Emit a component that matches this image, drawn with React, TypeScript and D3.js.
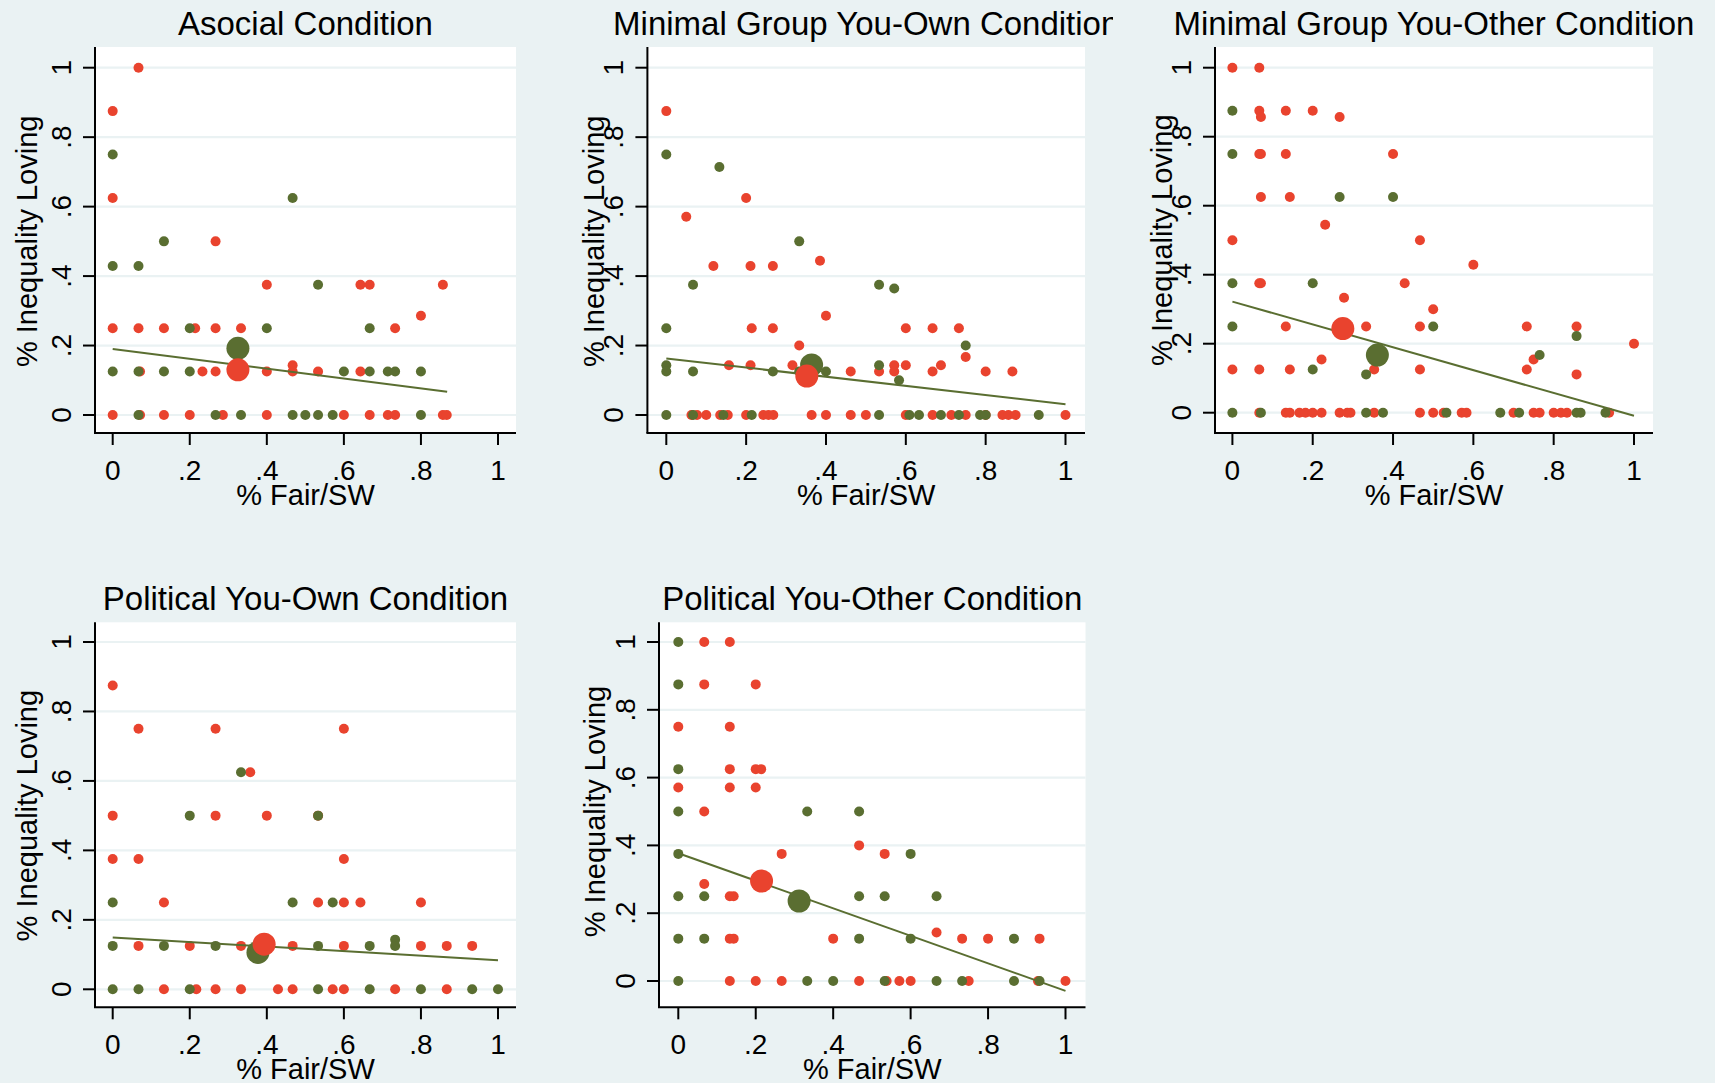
import React from 'react'
import { scaleLinear, line } from 'd3'

// ---- data ----
type Pt = [number, number]

const panelTitles = [
  'Asocial Condition',
  'Minimal Group You-Own Condition',
  'Minimal Group You-Other Condition',
  'Political You-Own Condition',
  'Political You-Other Condition',
]

const tickValues = [0, 0.2, 0.4, 0.6, 0.8, 1]
const tickLabels = ['0', '.2', '.4', '.6', '.8', '1']
const xTitle = '% Fair/SW'
const yTitle = '% Inequality Loving'

const asocialRed: Pt[] = [
  [0, .875], [.067, 1], [0, .625], [.267, .5], [.4, .375], [.643, .375], [.667, .375], [.857, .375], [.8, .286],
  [0, .25], [.067, .25], [.133, .25], [.214, .25], [.267, .25], [.333, .25], [.733, .25],
  [.071, .125], [.233, .125], [.267, .125], [.4, .125], [.467, .125], [.533, .125], [.643, .125], [.467, .143],
  [0, 0], [.071, 0], [.133, 0], [.2, 0], [.286, 0], [.4, 0], [.6, 0], [.667, 0], [.714, 0], [.733, 0], [.857, 0], [.867, 0],
]
const asocialGreen: Pt[] = [
  [0, .75], [.467, .625], [.133, .5], [0, .429], [.067, .429], [.533, .375], [.2, .25], [.4, .25], [.667, .25],
  [0, .125], [.067, .125], [.133, .125], [.2, .125], [.6, .125], [.667, .125], [.714, .125], [.733, .125], [.8, .125],
  [.067, 0], [.267, 0], [.333, 0], [.467, 0], [.5, 0], [.533, 0], [.571, 0], [.8, 0],
]

const ownRed: Pt[] = [
  [0, .875], [.05, .571], [.2, .625], [.118, .429], [.211, .429], [.267, .429], [.385, .444], [.4, .286],
  [.214, .25], [.267, .25], [.6, .25], [.667, .25], [.733, .25], [.333, .2], [.75, .167],
  [.157, .143], [.211, .143], [.316, .143], [.571, .143], [.6, .143], [.688, .143],
  [.462, .125], [.533, .125], [.571, .125], [.667, .125], [.8, .125], [.867, .125],
  [.063, 0], [.077, 0], [.1, 0], [.135, 0], [.154, 0], [.2, 0], [.243, 0], [.256, 0], [.268, 0], [.364, 0], [.4, 0],
  [.462, 0], [.5, 0], [.6, 0], [.667, 0], [.714, 0], [.75, 0], [.8, 0], [.842, 0], [.857, 0], [.875, 0], [1, 0],
]
const ownGreen: Pt[] = [
  [0, .75], [.133, .714], [.333, .5], [.067, .375], [.533, .375], [.571, .364], [0, .25], [.75, .2], [0, .143], [.533, .143],
  [0, .125], [.067, .125], [.267, .125], [.333, .125], [.4, .125], [.583, .1],
  [0, 0], [.067, 0], [.143, 0], [.214, 0], [.533, 0], [.609, 0], [.633, 0], [.688, 0], [.733, 0], [.786, 0], [.8, 0], [.933, 0],
]

const otherRed: Pt[] = [
  [0, 1], [.067, 1], [.067, .875], [.071, .857], [.133, .875], [.2, .875], [.267, .857],
  [.067, .75], [.071, .75], [.133, .75], [.4, .75], [.071, .625], [.143, .625], [.231, .545], [0, .5], [.467, .5], [.6, .429],
  [.067, .375], [.071, .375], [.429, .375], [.278, .333], [.5, .3],
  [.133, .25], [.333, .25], [.467, .25], [.733, .25], [.857, .25], [1, .2], [.222, .154], [.75, .154],
  [0, .125], [.067, .125], [.143, .125], [.353, .125], [.467, .125], [.733, .125], [.857, .111],
  [.067, 0], [.133, 0], [.143, 0], [.167, 0], [.182, 0], [.2, 0], [.222, 0], [.267, 0], [.286, 0], [.294, 0], [.353, 0],
  [.467, 0], [.5, 0], [.526, 0], [.571, 0], [.583, 0], [.7, 0], [.75, 0], [.765, 0], [.8, 0], [.818, 0], [.833, 0], [.938, 0],
]
const otherGreen: Pt[] = [
  [0, .875], [0, .75], [.267, .625], [.4, .625], [0, .375], [.2, .375], [0, .25], [.5, .25], [.857, .222], [.765, .167],
  [.2, .125], [.333, .111],
  [0, 0], [.071, 0], [.333, 0], [.375, 0], [.533, 0], [.667, 0], [.714, 0], [.857, 0], [.867, 0], [.929, 0],
]

const polOwnRed: Pt[] = [
  [0, .875], [.067, .75], [.267, .75], [.6, .75], [.357, .625], [0, .5], [.267, .5], [.4, .5], [.533, .5],
  [0, .375], [.067, .375], [.6, .375],
  [.133, .25], [.533, .25], [.6, .25], [.643, .25], [.8, .25],
  [.067, .125], [.2, .125], [.333, .125], [.467, .125], [.6, .125], [.8, .125], [.867, .125], [.933, .125],
  [.133, 0], [.217, 0], [.267, 0], [.333, 0], [.429, 0], [.467, 0], [.571, 0], [.6, 0], [.733, 0], [.867, 0],
]
const polOwnGreen: Pt[] = [
  [.333, .625], [.2, .5], [.533, .5], [0, .25], [.467, .25], [.571, .25], [.733, .143],
  [0, .125], [.133, .125], [.267, .125], [.533, .125], [.667, .125], [.733, .125],
  [0, 0], [.067, 0], [.2, 0], [.533, 0], [.667, 0], [.8, 0], [.933, 0], [1, 0],
]

const polOtherRed: Pt[] = [
  [.067, 1], [.133, 1], [.067, .875], [.2, .875], [0, .75], [.133, .75], [.133, .625], [.2, .625], [.214, .625],
  [0, .571], [.133, .571], [.2, .571], [.067, .5], [.467, .4], [.267, .375], [.533, .375], [.067, .286],
  [.133, .25], [.143, .25], [.667, .143],
  [.133, .125], [.143, .125], [.4, .125], [.733, .125], [.8, .125], [.933, .125],
  [.133, 0], [.2, 0], [.267, 0], [.467, 0], [.538, 0], [.571, 0], [.6, 0], [.75, 0], [.929, 0], [1, 0],
]
const polOtherGreen: Pt[] = [
  [0, 1], [0, .875], [0, .625], [0, .5], [.333, .5], [.467, .5], [0, .375], [.6, .375],
  [0, .25], [.067, .25], [.467, .25], [.533, .25], [.667, .25],
  [0, .125], [.067, .125], [.467, .125], [.6, .125], [.867, .125],
  [0, 0], [.333, 0], [.4, 0], [.533, 0], [.667, 0], [.733, 0], [.867, 0], [.933, 0],
]

// group means (large markers), per panel
const meanRed: Pt[] = [[.325, .13], [.352, .112], [.275, .244], [.393, .13], [.215, .295]]
const meanGreen: Pt[] = [[.325, .192], [.364, .144], [.361, .167], [.377, .106], [.312, .236]]

// fitted line endpoints, per panel
const fitLines: Pt[][] = [
  [[0, .19], [.868, .067]],
  [[0, .163], [1, .031]],
  [[0, .322], [1, -.009]],
  [[0, .149], [1, .084]],
  [[0, .377], [1, -.029]],
]

const redPoints = [asocialRed, ownRed, otherRed, polOwnRed, polOtherRed]
const greenPoints = [asocialGreen, ownGreen, otherGreen, polOwnGreen, polOtherGreen]

// ---- layout (pixels) ----
const W = 1715
const H = 1083
const frames = [
  { left: 95, right: 516, top: 47, bottom: 433, x0: 112.7, x1: 498, y0: 415, y1: 67.7, yTitleOff: 58, cell: [0, 560] },
  { left: 647.4, right: 1085, top: 47, bottom: 433, x0: 666.3, x1: 1065.5, y0: 415, y1: 67.7, yTitleOff: 43, cell: [560, 1113] },
  { left: 1215, right: 1653, top: 47, bottom: 433, x0: 1232.4, x1: 1634, y0: 412.7, y1: 67.7, yTitleOff: 43, cell: [1113, 1715] },
  { left: 95, right: 516, top: 622.3, bottom: 1007.3, x0: 112.7, x1: 498, y0: 989.3, y1: 642, yTitleOff: 58, cell: [0, 560] },
  { left: 659, right: 1085.5, top: 622.3, bottom: 1007.3, x0: 678.3, x1: 1065.5, y0: 981, y1: 642, yTitleOff: 54, cell: [560, 1113] },
]

const BG = '#eaf2f3'
const RED = '#e9432e'
const GREEN = '#5a6e31'
const FONT = '"Liberation Sans", Arial, sans-serif'

const Panel = ({ i }: { i: number }) => {
  const f = frames[i]
  const x = scaleLinear().domain([0, 1]).range([f.x0, f.x1])
  const y = scaleLinear().domain([0, 1]).range([f.y0, f.y1])
  const fit = line<Pt>().x(d => x(d[0])).y(d => y(d[1]))
  const cx = (f.left + f.right) / 2
  const midY = (y(0) + y(1)) / 2
  return (
    <g clipPath={`url(#cell${i})`}>
      <clipPath id={`cell${i}`}>
        <rect x={f.cell[0]} y={0} width={f.cell[1] - f.cell[0]} height={H} />
      </clipPath>
      <rect x={f.left} y={f.top} width={f.right - f.left} height={f.bottom - f.top} fill="#fff" />
      {tickValues.map(v => (
        <line key={v} x1={f.left} x2={f.right} y1={y(v)} y2={y(v)} stroke={BG} strokeWidth={2.2} />
      ))}
      {redPoints[i].map((d, k) => (
        <circle key={'r' + k} cx={x(d[0])} cy={y(d[1])} r={5} fill={RED} />
      ))}
      {greenPoints[i].map((d, k) => (
        <circle key={'g' + k} cx={x(d[0])} cy={y(d[1])} r={5} fill={GREEN} />
      ))}
      <path d={fit(fitLines[i]) || ''} fill="none" stroke={GREEN} strokeWidth={2} />
      <circle cx={x(meanGreen[i][0])} cy={y(meanGreen[i][1])} r={11.5} fill={GREEN} />
      <circle cx={x(meanRed[i][0])} cy={y(meanRed[i][1])} r={11.5} fill={RED} />
      {/* axes */}
      <line x1={f.left} x2={f.left} y1={f.top} y2={f.bottom} stroke="#000" strokeWidth={2} />
      <line x1={f.left - 1} x2={f.right} y1={f.bottom} y2={f.bottom} stroke="#000" strokeWidth={2} />
      {tickValues.map((v, k) => (
        <g key={'yt' + v}>
          <line x1={f.left - 12} x2={f.left} y1={y(v)} y2={y(v)} stroke="#000" strokeWidth={2} />
          <text transform={`translate(${f.left - 24},${y(v)}) rotate(-90)`} textAnchor="middle"
            fontSize={28} fontFamily={FONT}>{tickLabels[k]}</text>
        </g>
      ))}
      {tickValues.map((v, k) => (
        <g key={'xt' + v}>
          <line x1={x(v)} x2={x(v)} y1={f.bottom} y2={f.bottom + 12} stroke="#000" strokeWidth={2} />
          <text x={x(v)} y={f.bottom + 46.5} textAnchor="middle" fontSize={28} fontFamily={FONT}>{tickLabels[k]}</text>
        </g>
      ))}
      <text x={cx} y={f.bottom + 72} textAnchor="middle" fontSize={29} fontFamily={FONT}>{xTitle}</text>
      <text transform={`translate(${f.left - f.yTitleOff},${midY}) rotate(-90)`} textAnchor="middle"
        fontSize={29} fontFamily={FONT}>{yTitle}</text>
      <text x={cx} y={f.top - 12.5} textAnchor="middle" fontSize={33} fontFamily={FONT}>{panelTitles[i]}</text>
    </g>
  )
}

const App = () => (
  <svg width={W} height={H} style={{ position: 'absolute', left: 0, top: 0, display: 'block' }}>
    <rect width={W} height={H} fill={BG} />
    {frames.map((_, i) => <Panel key={i} i={i} />)}
  </svg>
)

export default App
